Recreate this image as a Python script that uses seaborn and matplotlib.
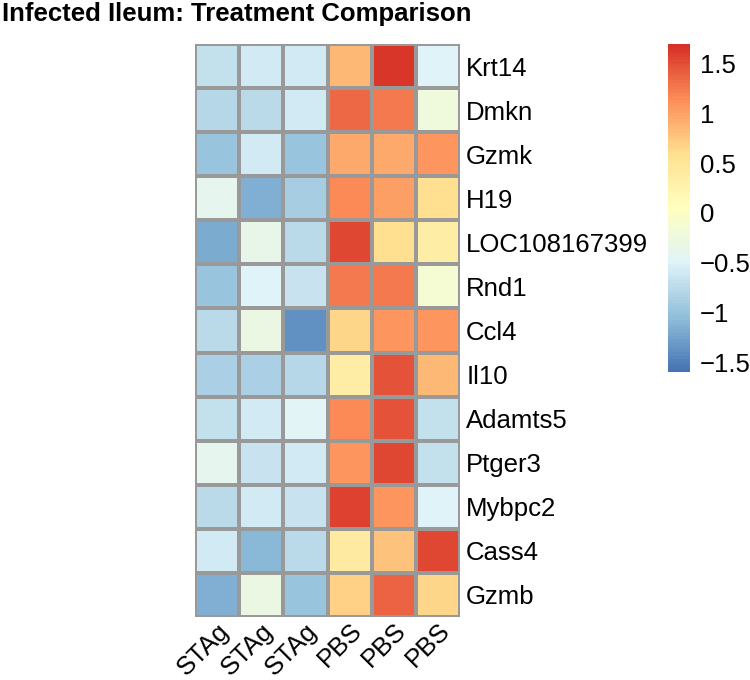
import numpy as np
import pandas as pd
import matplotlib
matplotlib.use("Agg")
import matplotlib.pyplot as plt
from matplotlib.colors import LinearSegmentedColormap
import seaborn as sns

genes = ["Krt14", "Dmkn", "Gzmk", "H19", "LOC108167399", "Rnd1", "Ccl4",
         "Il10", "Adamts5", "Ptger3", "Mybpc2", "Cass4", "Gzmb"]
samples = ["STAg", "STAg", "STAg", "PBS", "PBS", "PBS"]

stag1 = [-0.70, -0.80, -1.00, -0.40, -1.20, -1.00, -0.75, -0.85, -0.70, -0.40, -0.75, -0.60, -1.15]
stag2 = [-0.60, -0.75, -0.60, -1.15, -0.35, -0.50, -0.30, -0.85, -0.60, -0.65, -0.60, -1.10, -0.30]
stag3 = [-0.60, -0.60, -1.00, -0.90, -0.75, -0.65, -1.40, -0.80, -0.45, -0.60, -0.65, -0.75, -1.00]
pbs1 = [0.85, 1.35, 0.95, 1.15, 1.55, 1.25, 0.65, 0.35, 1.15, 1.10, 1.58, 0.38, 0.70]
pbs2 = [1.65, 1.25, 0.97, 1.03, 0.60, 1.27, 1.08, 1.50, 1.47, 1.55, 1.08, 0.78, 1.38]
pbs3 = [-0.50, -0.22, 1.08, 0.60, 0.35, -0.12, 1.10, 0.85, -0.70, -0.70, -0.50, 1.55, 0.65]

title = "Infected Ileum: Treatment Comparison"
cbar_ticks = [-1.5, -1, -0.5, 0, 0.5, 1, 1.5]
cbar_ticklabels = ["\u22121.5", "\u22121", "\u22120.5", "0", "0.5", "1", "1.5"]

data = np.array([stag1, stag2, stag3, pbs1, pbs2, pbs3]).T
df = pd.DataFrame(data, index=genes, columns=range(len(samples)))

sns.set_theme(style="white")
plt.rcParams["font.family"] = ["Liberation Sans", "DejaVu Sans"]
plt.rcParams["text.color"] = "black"
plt.rcParams["xtick.color"] = "black"
plt.rcParams["ytick.color"] = "black"
plt.rcParams["axes.labelcolor"] = "black"

palette = ["#4575B4", "#91BFDB", "#E0F3F8", "#FFFFBF", "#FEE090", "#FC8D59", "#D73027"]
cmap = LinearSegmentedColormap.from_list("rdylbu_r", palette, N=100)

W, H = 750, 680
fig = plt.figure(figsize=(7.5, 6.8), dpi=100)
ax = fig.add_axes([195 / W, 1 - 617 / H, 265 / W, 573 / H])
cax = fig.add_axes([668 / W, 1 - 372 / H, 22 / W, 328 / H])

sns.heatmap(df, ax=ax, cbar_ax=cax, cmap=cmap, vmin=-1.6, vmax=1.7,
            linewidths=1.5, linecolor="#999999",
            xticklabels=samples, yticklabels=genes,
            cbar_kws={"ticks": cbar_ticks})

ax.yaxis.tick_right()
ax.set_yticklabels(genes, rotation=0, ha="left", fontsize=18.5, color="black")
ax.set_xticklabels(samples, rotation=45, ha="right", va="top",
                   rotation_mode="anchor", fontsize=18.5, color="black")
ax.tick_params(axis="both", length=0)
ax.tick_params(axis="y", pad=4.5)
ax.tick_params(axis="x", pad=1)
ax.set_xlabel("")
ax.set_ylabel("")

cax.set_yticklabels(cbar_ticklabels, fontsize=18.5, color="black")
cax.tick_params(length=0, pad=7)
for s in cax.spines.values():
    s.set_visible(False)
cb = ax.collections[0].colorbar
cb.outline.set_visible(False)

fig.text(2 / W, 1 - 2 / H, title, ha="left", va="top", fontsize=18.5,
         fontweight="bold", color="black")

fig.savefig("out.png", dpi=100, facecolor="white")
